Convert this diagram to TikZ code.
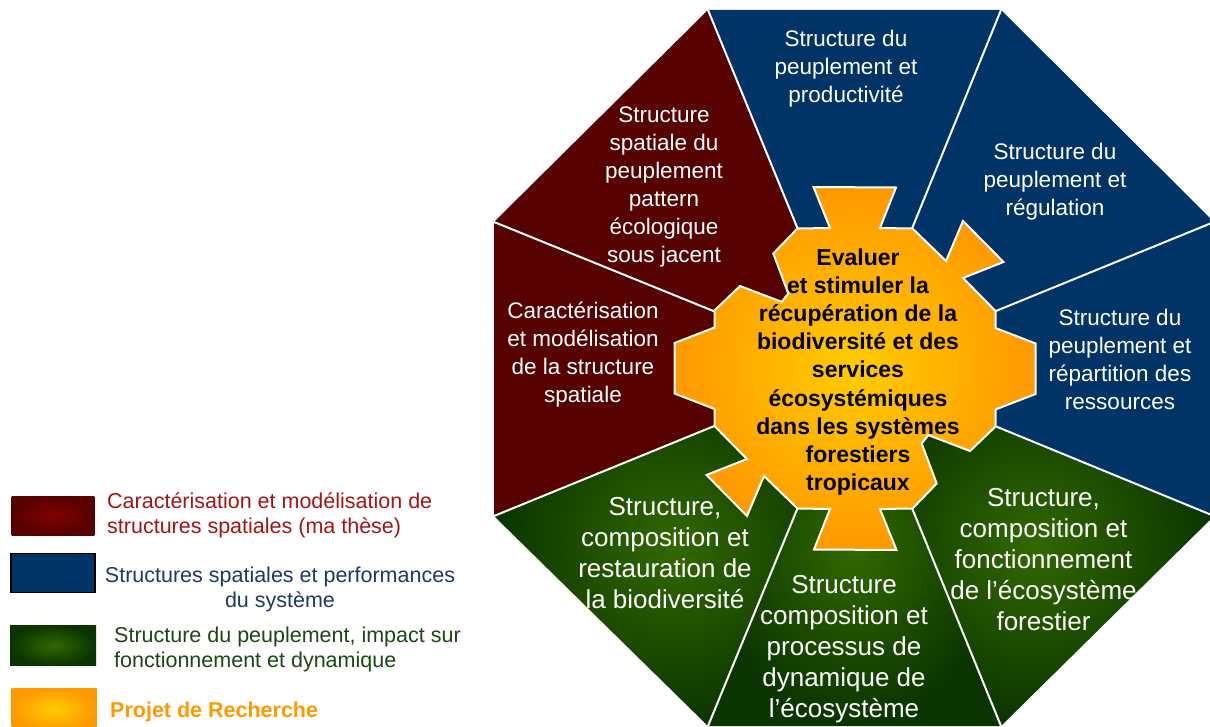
\documentclass[tikz,border=0pt]{standalone}
\usepackage{fontspec}
\setmainfont{Liberation Sans}

\definecolor{redS}{RGB}{86,0,0}
\definecolor{redL}{RGB}{130,0,0}
\definecolor{blueS}{RGB}{0,51,102}
\definecolor{greenD}{RGB}{10,52,0}
\definecolor{greenL}{RGB}{50,104,0}
\definecolor{gearY}{RGB}{255,204,0}
\definecolor{gearO}{RGB}{255,153,0}
\definecolor{redT}{RGB}{165,20,20}
\definecolor{blueT}{RGB}{31,56,100}
\definecolor{greenT}{RGB}{28,70,18}

\tikzset{
  sect/.style={text=white, align=center, inner sep=0pt, font=\fontsize{22.5}{28}\selectfont},
  sectbig/.style={text=white, align=center, inner sep=0pt, font=\fontsize{26}{31}\selectfont},
  centre/.style={text=black, align=center, inner sep=0pt, font=\fontsize{23}{28.1}\selectfont\bfseries},
  legtxt/.style={inner sep=0pt, font=\fontsize{21.5}{25}\selectfont},
  divider/.style={white, line width=2pt},
}

\begin{document}
\begin{tikzpicture}[x=1pt,y=-1pt]
\useasboundingbox (0,0) rectangle (1210,727);

	%octagon corners
 \coordinate (O) at (855,368.5);
    \foreach \name/\px/\py in {A/708/10, B/1001/10, C/1214/222, D/1214/516, E/1001/726, F/708/726, G/494/516, H/494/222}{
           \coordinate (\name) at (\px,\py);
    }

	%sectors
    \foreach \a/\b/\col in {A/B/blueS, B/C/blueS, C/D/blueS, G/H/redS, H/A/redS}{
           \fill[\col] (O) -- (\a) -- (\b) -- cycle;
    }
    \foreach \a/\b in {D/E, E/F, F/G}{
           \shade[inner color=greenL, outer color=greenD] (O) -- (\a) -- (\b) -- cycle;
    }
    \foreach \c in {A,B,C,D,E,F,G,H}{
           \draw[divider] (O) -- (\c);
    }

	%gear
 \begin{scope}[shift={(O)}]
   \shadedraw[inner color=gearY, outer color=gearO, draw=white, line width=2pt] (-25,-140.5)
     \foreach \x/\y in {-41.5/-181.5, 41/-181, 25/-140.5, 57.5/-140, 91/-107.5, 108/-147.5, 148.5/-106.5, 108/-90.5,
       140.5/-57.5, 140.5/-40.5, 180.5/-25, 180.5/25.5, 140.5/41, 140.5/58, 115/82.5, 73.3/66.6, 66.7/75, 81.7/115,
       57.5/140, 25/140.5, 41.5/181.5, -41/181, -25/140.5, -57.5/140, -91/107.5, -108/147.5, -148.5/106.5, -108/90.5,
       -140.5/57.5, -140.5/40.5, -180.5/25, -180.5/-25.5, -140.5/-41, -140.5/-58, -115/-82.5, -73.3/-66.6, -66.7/-75,
       -81.7/-115, -57.5/-140}{ -- (\x,\y) } -- cycle;
 \end{scope}

	%labels
    \foreach \name/\px/\py/\txt in {prod/846/69/{Structure du\\peuplement et\\productivité},
        regul/1055/181.6/{Structure du\\peuplement et\\régulation},
        repart/1120/359/{Structure du\\peuplement et\\répartition des\\ressources},
        carac/583/355/{Caractérisation\\et modélisation\\de la structure\\spatiale},
        pattern/664/187/{Structure\\spatiale du\\peuplement\\pattern\\écologique\\sous jacent}}{
           \node[sect] (\name) at (\px,\py) {\txt};
    }
    \foreach \name/\px/\py/\txt in {fonct/1043.5/560/{Structure,\\composition et\\fonctionnement\\de l’écosystème\\forestier},
        dyn/844/649/{Structure\\composition et\\processus de\\dynamique de\\l’écosystème},
        resto/665/553.5/{Structure,\\composition et\\restauration de\\la biodiversité}}{
           \node[sectbig] (\name) at (\px,\py) {\txt};
    }
 \node[centre] (projet) at (858,372) {Evaluer\\et stimuler la\\récupération de la\\biodiversité et des\\services\\écosystémiques\\dans les systèmes\\forestiers\\tropicaux};

	%legend
 \shade[inner color=redL, outer color=redS] (11.7,496) rectangle (94.3,535);
 \filldraw[fill=blueS, draw=black, line width=1.5pt] (10.8,553.5) rectangle (95.2,592.5);
 \shade[inner color=greenL, outer color=greenD] (10,625) rectangle (96,665.7);
 \shade[inner color=gearY, outer color=gearO] (11.7,688.3) rectangle (96.7,730);

 \node[legtxt, text=redT, anchor=west, align=left] (lgthese) at (107,515) {Caractérisation et modélisation de\\structures spatiales (ma thèse)};
 \node[legtxt, text=blueT, align=center] (lgperf) at (280,589) {Structures spatiales et performances\\du système};
 \node[legtxt, text=greenT, anchor=west, align=left] (lgdyn) at (114,649) {Structure du peuplement, impact sur\\fonctionnement et dynamique};
 \node[legtxt, text=gearO, anchor=west, font=\fontsize{21.5}{25}\selectfont\bfseries] (lgprojet) at (110,712) {Projet de Recherche};

\end{tikzpicture}
\end{document}
